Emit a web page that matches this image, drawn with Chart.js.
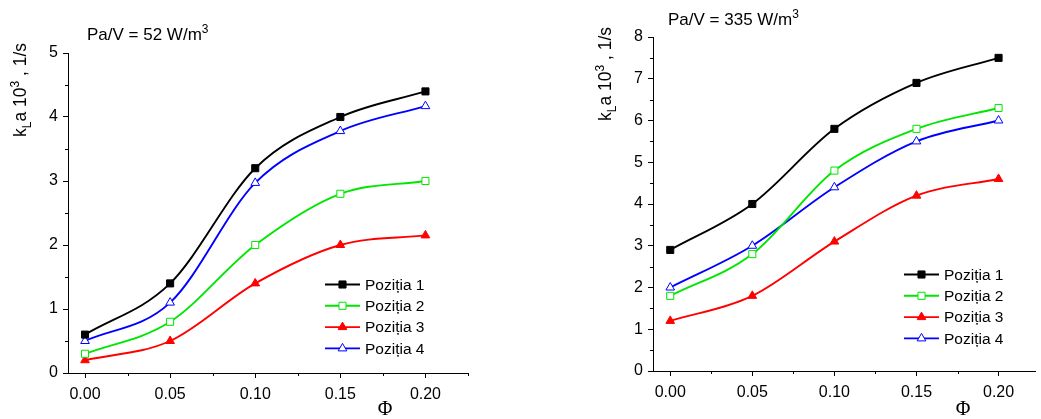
<!DOCTYPE html>
<html>
<head>
<meta charset="utf-8">
<script src="https://cdn.jsdelivr.net/npm/chart.js@4.4.1/dist/chart.umd.min.js"></script>
<style>
  html, body { margin: 0; padding: 0; background: #fff; }
  .panel { position: absolute; top: 0; }
</style>
</head>
<body>
<div class="panel" style="left:0;width:520px;height:419px"><canvas id="chartLow" width="520" height="419"></canvas></div>
<div class="panel" style="left:520px;width:521px;height:419px"><canvas id="chartHigh" width="521" height="419"></canvas></div>
<script>
// gas hold-up values on the x axis
const phi = [0, 0.05, 0.10, 0.15, 0.20];
const seriesNames = ['Poziția 1', 'Poziția 2', 'Poziția 3', 'Poziția 4'];

// Pa/V = 52 W/m3
const lowP1 = [0.6, 1.4, 3.2, 4.0, 4.4];
const lowP2 = [0.3, 0.8, 2.0, 2.8, 3.0];
const lowP3 = [0.2, 0.5, 1.4, 2.0, 2.15];
const lowP4 = [0.5, 1.1, 2.97, 3.78, 4.17];

// Pa/V = 335 W/m3
const highP1 = [2.9, 4.0, 5.8, 6.9, 7.5];
const highP2 = [1.8, 2.8, 4.8, 5.8, 6.3];
const highP3 = [1.2, 1.8, 3.1, 4.2, 4.6];
const highP4 = [2.0, 3.0, 4.4, 5.5, 6.0];

const xTickValues = [0, 0.05, 0.10, 0.15, 0.20];
const yTicksLow = [0, 1, 2, 3, 4, 5];
const yTicksHigh = [0, 1, 2, 3, 4, 5, 6, 7, 8];
const powerLabels = ['52', '335'];

const seriesColors = ['#000000', '#00e600', '#ff0000', '#0000ff'];
const markerShapes = ['rect', 'rect', 'triangle', 'triangle'];
const markerFilled = [true, false, true, false];

const SANS = '"Liberation Sans", Arial, sans-serif';
const SERIF = '"Liberation Serif", "Times New Roman", serif';

function drawRich(ctx, parts, y, size) {
    // parts: [text, kind] with kind '', 'sub' or 'sup'
    let w = 0;
    const pieces = parts.map(([t, kind]) => {
        const fs = kind ? Math.round(size * 0.68) : size;
        ctx.font = `${fs}px ${SANS}`;
        const pw = ctx.measureText(t).width;
        w += pw;
        return { t, fs, w: pw, dy: kind === 'sub' ? size * 0.28 : kind === 'sup' ? -size * 0.42 : 0 };
    });
    return { width: w, draw(x0) {
        let cx = x0;
        pieces.forEach(p => {
            ctx.font = `${p.fs}px ${SANS}`;
            ctx.fillText(p.t, cx, y + p.dy);
            cx += p.w;
        });
    } };
}

const decorPlugin = {
    id: 'decor',
    afterDraw(chart, args, o) {
        const ctx = chart.ctx;
        const xs = chart.scales.x, ys = chart.scales.y;
        ctx.save();

        // minor ticks
        ctx.strokeStyle = '#000';
        ctx.lineWidth = 1;
        ctx.beginPath();
        for (let v = 0.5; v < ys.max; v += 1) {
            const py = Math.round(ys.getPixelForValue(v)) + 0.5;
            ctx.moveTo(ys.right - 3, py);
            ctx.lineTo(ys.right, py);
        }
        for (let v = 0.025; v <= xs.max + 1e-9; v += 0.05) {
            const px = Math.round(xs.getPixelForValue(v)) + 0.5;
            ctx.moveTo(px, xs.top);
            ctx.lineTo(px, xs.top + 3);
        }
        ctx.stroke();

        ctx.fillStyle = '#000';
        ctx.textBaseline = 'alphabetic';
        ctx.textAlign = 'left';

        // title
        drawRich(ctx, [[`Pa/V = ${o.power} W/m`, ''], ['3', 'sup']], o.titleY, 17).draw(o.titleX);

        // y axis title, rotated
        ctx.save();
        ctx.translate(o.yTitleX, o.yTitleY);
        ctx.rotate(-Math.PI / 2);
        const yt = drawRich(ctx, [['k', ''], ['L', 'sub'], ['a 10', ''], ['3', 'sup'], [' , 1/s', '']], 6, 17.5);
        yt.draw(-yt.width / 2);
        ctx.restore();

        // x axis title
        ctx.font = `20px ${SERIF}`;
        ctx.textAlign = 'center';
        ctx.textBaseline = 'middle';
        ctx.fillText('Φ', o.phiX, o.phiY);

        // legend
        ctx.textAlign = 'left';
        ctx.font = `15.5px ${SANS}`;
        chart.data.datasets.forEach((ds, i) => {
            const ly = o.legendY + i * o.legendGap;
            ctx.strokeStyle = ds.borderColor;
            ctx.lineWidth = ds.borderWidth;
            ctx.beginPath();
            ctx.moveTo(o.legendX, ly);
            ctx.lineTo(o.legendX + 35, ly);
            ctx.stroke();
            ctx.fillStyle = ds.pointBackgroundColor;
            ctx.strokeStyle = ds.borderColor;
            ctx.lineWidth = 1;
            Chart.helpers.drawPoint(ctx, {
                pointStyle: ds.pointStyle, rotation: 0,
                radius: ds.pointRadius, borderWidth: 1
            }, o.legendX + 17.5, ly);
            ctx.fillStyle = '#000';
            ctx.textBaseline = 'middle';
            ctx.fillText(ds.label, o.legendX + 40, ly + 1);
        });
        ctx.restore();
    }
};

function buildChart(canvasId, series, yTicks, cfg) {
    const datasets = series.map((values, i) => ({
        label: seriesNames[i],
        data: phi.map((x, k) => ({ x, y: values[k] })),
        borderColor: seriesColors[i],
        borderWidth: 1.9,
        pointStyle: markerShapes[i],
        pointRadius: 5,
        pointBorderWidth: 1,
        pointBorderColor: seriesColors[i],
        pointBackgroundColor: markerFilled[i] ? seriesColors[i] : '#ffffff',
        cubicInterpolationMode: 'monotone',
        fill: false
    }));

    const tickFont = { family: SANS, size: 16 };

    return new Chart(document.getElementById(canvasId), {
        type: 'line',
        data: { datasets },
        options: {
            responsive: false,
            animation: false,
            layout: { padding: { top: cfg.padTop, right: cfg.padRight, left: 0, bottom: 0 } },
            plugins: {
                legend: { display: false },
                tooltip: { enabled: false },
                decor: cfg.decor
            },
            scales: {
                x: {
                    type: 'linear',
                    min: cfg.xMin,
                    max: cfg.xMax,
                    afterBuildTicks: scale => { scale.ticks = xTickValues.map(v => ({ value: v })); },
                    afterFit: scale => { scale.height = cfg.xAxisHeight; },
                    ticks: {
                        color: '#000', font: tickFont, padding: cfg.xLabelPad,
                        maxRotation: 0, autoSkip: false,
                        callback: v => v.toFixed(2)
                    },
                    grid: { drawOnChartArea: false, drawTicks: true, tickLength: 5, color: '#000' },
                    border: { display: true, color: '#000', width: 1 }
                },
                y: {
                    min: 0,
                    max: yTicks[yTicks.length - 1],
                    afterBuildTicks: scale => { scale.ticks = yTicks.map(v => ({ value: v })); },
                    afterFit: scale => { scale.width = cfg.yAxisWidth; },
                    ticks: { color: '#000', font: tickFont, padding: 5, autoSkip: false },
                    grid: { drawOnChartArea: false, drawTicks: true, tickLength: 5, color: '#000' },
                    border: { display: true, color: '#000', width: 1 }
                }
            }
        },
        plugins: [decorPlugin]
    });
}

buildChart('chartLow', [lowP1, lowP2, lowP3, lowP4], yTicksLow, {
    xMin: -0.01, xMax: 0.225,
    padTop: 53, padRight: 52, yAxisWidth: 68, xAxisHeight: 46, xLabelPad: 7,
    decor: {
        power: powerLabels[0], titleX: 87, titleY: 40,
        yTitleX: 20, yTitleY: 90,
        phiX: 385, phiY: 410,
        legendX: 325, legendY: 284.5, legendGap: 21.3
    }
});

buildChart('chartHigh', [highP1, highP2, highP3, highP4], yTicksHigh, {
    xMin: -0.0105, xMax: 0.2222,
    padTop: 37, padRight: 0, yAxisWidth: 133, xAxisHeight: 48, xLabelPad: 7,
    decor: {
        power: powerLabels[1], titleX: 148, titleY: 25,
        yTitleX: 85, yTitleY: 74,
        phiX: 443, phiY: 410,
        legendX: 384, legendY: 274.5, legendGap: 21.3
    }
});
</script>
</body>
</html>
